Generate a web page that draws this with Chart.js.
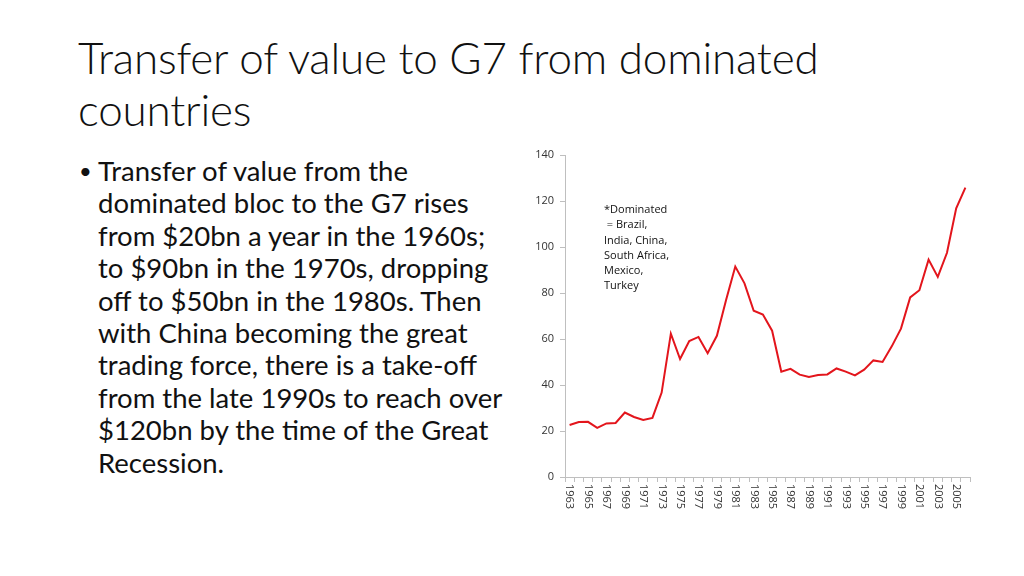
<!DOCTYPE html>
<html>
<head>
<meta charset="utf-8">
<script src="https://cdn.jsdelivr.net/npm/chart.js@4"></script>
<style>
  html, body { margin: 0; padding: 0; background: #fff; }
  body { width: 1024px; height: 576px; position: relative; overflow: hidden; font-family: Lato, "Open Sans", sans-serif; }
  #title { position: absolute; left: 78px; top: 31px; font-size: 44px; line-height: 52px; color: #111; font-weight: 300; letter-spacing: -0.2px; }
  #bullets { position: absolute; left: 78px; top: 155px; font-size: 27.5px; line-height: 32.4px; color: #111; white-space: nowrap; }
  #bullets .dot { position: absolute; left: 1px; top: 0; font-size: 22px; }
  #bullets .txt { margin-left: 20px; }
  #note { position: absolute; left: 604px; top: 201px; font-size: 11px; line-height: 15.3px; color: #111; white-space: pre; font-family: "Open Sans", sans-serif; }
  #wrap { position: absolute; left: 510px; top: 140px; width: 470px; height: 387px; }
</style>
</head>
<body>
<div id="title">Transfer of value to G7 from dominated<br>countries</div>
<div id="bullets"><span class="dot">•</span><div class="txt">Transfer of value from the<br>dominated bloc to the G7 rises<br>from $20bn a year in the 1960s;<br>to $90bn in the 1970s, dropping<br>off to $50bn in the 1980s. Then<br>with China becoming the great<br>trading force, there is a take-off<br>from the late 1990s to reach over<br>$120bn by the time of the Great<br>Recession.</div></div>
<div id="wrap"><canvas id="myChart"></canvas></div>
<div id="note">*Dominated
 = Brazil,
India, China,
South Africa,
Mexico,
Turkey</div>
<script>
//  chart data
let years = [
    '1963', '1964', '1965', '1966', '1967', '1968', '1969', '1970', '1971', '1972',
    '1973', '1974', '1975', '1976', '1977', '1978', '1979', '1980', '1981', '1982',
    '1983', '1984', '1985', '1986', '1987', '1988', '1989', '1990', '1991', '1992',
    '1993', '1994', '1995', '1996', '1997', '1998', '1999', '2000', '2001', '2002',
    '2003', '2004', '2005', '2006'
]
let transfer = [
    22.6, 23.9, 24.0, 21.4, 23.3, 23.5, 28.0, 26.1, 24.8, 25.7,
    36.7, 62.3, 51.3, 59.1, 60.9, 53.8, 61.4, 77.0, 91.5, 84.2,
    72.3, 70.6, 63.6, 45.8, 47.0, 44.5, 43.5, 44.3, 44.6, 47.2,
    45.8, 44.2, 46.7, 50.7, 50.0, 56.8, 64.5, 78.1, 81.2, 94.5,
    87.0, 97.5, 116.8, 125.8
]
let yTicks = [0, 20, 40, 60, 80, 100, 120, 140]

const axisGrey = '#bfbfbf'
const labelColor = '#333'

//  x labels run top to bottom, so draw them ourselves at the scale's positions
const verticalLabels = {
    id: 'verticalLabels',
    afterDraw(chart) {
        const xs = chart.scales.x
        const c = chart.ctx
        c.save()
        c.font = '11px "Open Sans", sans-serif'
        c.fillStyle = labelColor
        c.textAlign = 'left'
        c.textBaseline = 'middle'
        years.forEach((y, i) => {
            if (i % 2) return
            const px = xs.getPixelForValue(i)
            c.save()
            c.translate(px, xs.top + 7)
            c.rotate(Math.PI / 2)
            c.fillText(y, 0, 0)
            c.restore()
        })
        c.restore()
    }
}

const ctx = document.getElementById('myChart')

new Chart(ctx, {
  type: 'line',
  data: {
    labels: years,
    datasets: [{
      data: transfer,
      borderColor: '#e3151c',
      borderWidth: 2,
      pointRadius: 0,
      tension: 0,
      fill: false
    }]
  },
  options: {
    animation: false,
    responsive: true,
    maintainAspectRatio: false,
    layout: { padding: { top: 15, right: 10, left: 0, bottom: 0 } },
    plugins: { legend: { display: false }, tooltip: { enabled: false } },
    scales: {
      x: {
        offset: true,
        grid: { offset: true, drawOnChartArea: false, color: axisGrey, tickLength: 5 },
        border: { color: axisGrey },
        ticks: { display: false },
        afterFit(s) { s.height = 50 }
      },
      y: {
        min: 0,
        max: 140,
        afterBuildTicks(s) { s.ticks = yTicks.map(v => ({ value: v })) },
        grid: { drawOnChartArea: false, color: axisGrey, tickLength: 5 },
        border: { color: axisGrey },
        ticks: { color: labelColor, padding: 6, font: { size: 11, family: '"Open Sans", sans-serif' } },
        afterFit(s) { s.width = 55 }
      }
    }
  },
  plugins: [verticalLabels]
});
</script>
</body>
</html>
